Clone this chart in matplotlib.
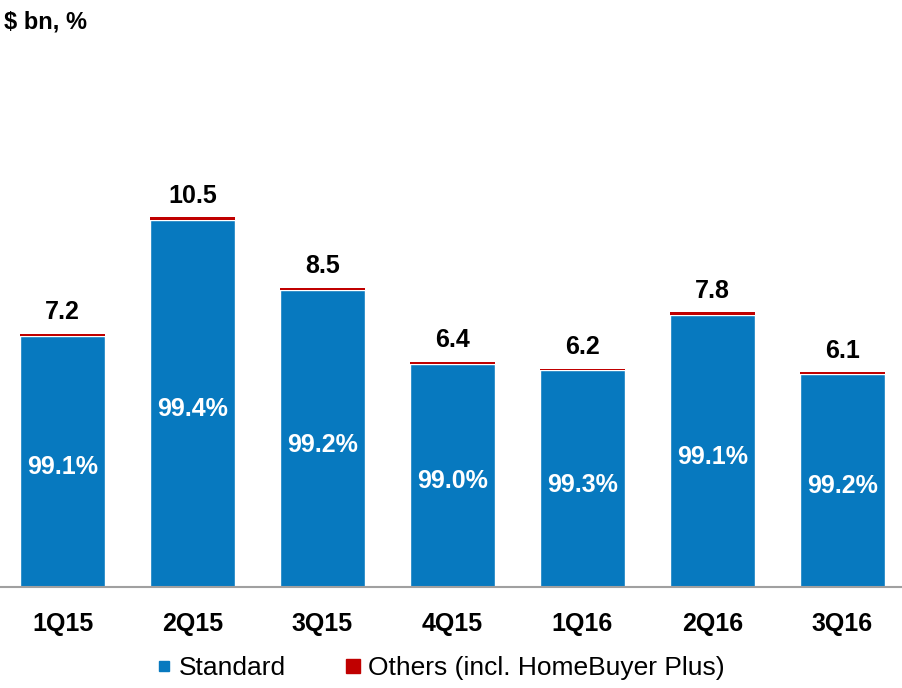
import matplotlib.pyplot as plt
from matplotlib.lines import Line2D

plt.rcParams['font.family'] = ['Liberation Sans', 'DejaVu Sans']

# Data
quarters = ['1Q15', '2Q15', '3Q15', '4Q15', '1Q16', '2Q16', '3Q16']
totals = [7.2, 10.5, 8.5, 6.4, 6.2, 7.8, 6.1]
standard_pct = [99.1, 99.4, 99.2, 99.0, 99.3, 99.1, 99.2]

blue = '#0779BF'
red = '#C00000'

standard = [t * p / 100 for t, p in zip(totals, standard_pct)]
others = [t - s for t, s in zip(totals, standard)]

fig = plt.figure(figsize=(9.02, 6.88), dpi=100)
ax = fig.add_axes([0, 101 / 688, 1, 587 / 688])

x = list(range(len(quarters)))
ax.bar(x, standard, width=0.65, color=blue, edgecolor='white', linewidth=1)
ax.bar(x, others, bottom=standard, width=0.65, color=red, linewidth=0)

for i in x:
    ax.annotate(f'{totals[i]:.1f}', (i, totals[i]), xytext=(0, 7), textcoords='offset points',
                ha='center', va='bottom', fontsize=18, fontweight='bold')
    ax.text(i, standard[i] / 2 - 0.17, f'{standard_pct[i]:.1f}%', ha='center', va='center',
            fontsize=18, fontweight='bold', color='white')

ax.set_xlim(-62.5 / 130, (902 - 62.5) / 130)
ax.set_ylim(0, 587 / 35.2)
ax.set_xticks(x)
ax.set_xticklabels(quarters, fontsize=18, fontweight='bold')
ax.tick_params(axis='x', length=0, pad=18)
ax.set_yticks([])
for s in ['top', 'left', 'right']:
    ax.spines[s].set_visible(False)
ax.spines['bottom'].set_color('#A0A0A0')
ax.spines['bottom'].set_linewidth(1.5)

fig.text(0.004, 0.985, '$ bn, %', ha='left', va='top', fontsize=17, fontweight='bold')

handles = [Line2D([], [], marker='s', linestyle='none', color=blue, markersize=7.5),
           Line2D([], [], marker='s', linestyle='none', color=red, markersize=9.5)]
fig.legend(handles, ['Standard', 'Others (incl. HomeBuyer Plus)'], loc='center',
           bbox_to_anchor=(441 / 902, 1 - 668 / 688), ncol=2, frameon=False,
           fontsize=19, handlelength=0.5, handletextpad=0.3, columnspacing=2.3)

fig.savefig('out.png', dpi=100)
